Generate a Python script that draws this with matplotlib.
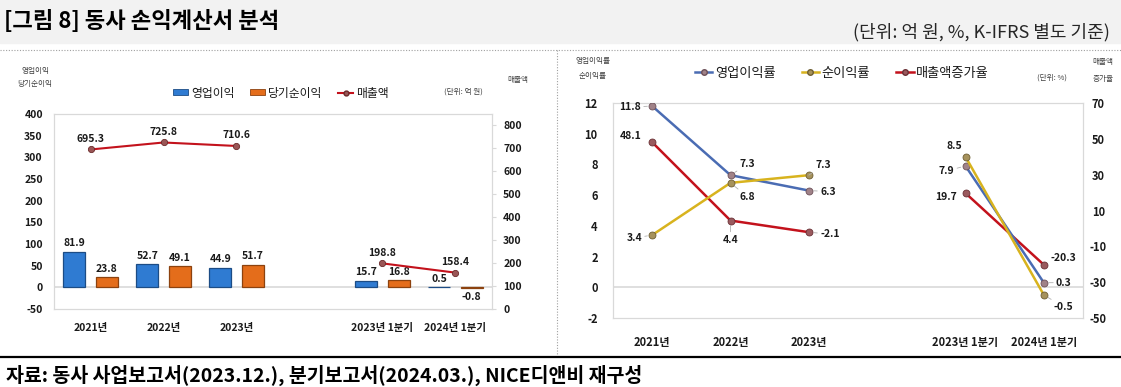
import numpy as np
import matplotlib.pyplot as plt
from matplotlib.lines import Line2D
from matplotlib.patches import Patch, Rectangle

plt.rcParams['font.family'] = ['Noto Sans CJK KR', 'DejaVu Sans']
plt.rcParams['axes.unicode_minus'] = False

W, H = 1121, 387

# 데이터 (값은 그림에서 읽음)
categories = ['2021년', '2022년', '2023년', '', '2023년 1분기', '2024년 1분기']
op_profit = [81.9, 52.7, 44.9, np.nan, 15.7, 0.5]
net_profit = [23.8, 49.1, 51.7, np.nan, 16.8, -0.8]
sales = [695.3, 725.8, 710.6, np.nan, 198.8, 158.4]

op_margin = [11.8, 7.3, 6.3, np.nan, 7.9, 0.3]
net_margin = [3.4, 6.8, 7.3, np.nan, 8.5, -0.5]
sales_growth = [48.1, 4.4, -2.1, np.nan, 19.7, -20.3]

# 색
c_blue_bar, c_blue_edge = '#2f7bd2', '#1c4c85'
c_orange_bar, c_orange_edge = '#e46d1b', '#8c420f'
c_red = '#c3121c'
c_blue_line = '#4a6cb3'
c_gold_line = '#d8b31e'
txt = '#1a1a1a'
border = '#d9d9d9'


def px_rect(x0, y0, x1, y1):
    return [x0 / W, 1 - y1 / H, (x1 - x0) / W, (y1 - y0) / H]


def ftext(x, y, s, **kw):
    fig.text(x / W, 1 - y / H, s, **kw)


fig = plt.figure(figsize=(W / 100, H / 100), dpi=100)

# 상단 회색 띠, 점선, 하단 굵은 선
fig.patches.append(Rectangle((0, 1 - 43 / H), 1, 43 / H, transform=fig.transFigure,
                             color='#f2f2f2', zorder=0))
fig.add_artist(Line2D([0, 1], [1 - 50 / H] * 2, transform=fig.transFigure,
                      ls=(0, (1, 1.5)), color='#a0a0a0', lw=0.8))
fig.add_artist(Line2D([557 / W] * 2, [1 - 50 / H, 1 - 356 / H], transform=fig.transFigure,
                      ls=(0, (1, 1.5)), color='#a0a0a0', lw=0.8))
fig.add_artist(Line2D([0, 1], [1 - 357 / H] * 2, transform=fig.transFigure,
                      color='black', lw=1.6))

ftext(4, 22, '[그림 8] 동사 손익계산서 분석', fontsize=16, fontweight='bold',
      va='center', ha='left', color='black')
ftext(1110, 32, '(단위: 억 원, %, K-IFRS 별도 기준)', fontsize=13, va='center',
      ha='right', color='#262626')
ftext(6, 375, '자료: 동사 사업보고서(2023.12.), 분기보고서(2024.03.), NICE디앤비 재구성',
      fontsize=14, fontweight='bold', va='center', ha='left', color='black')

x = np.arange(len(categories))
tick_pos = [i for i, c in enumerate(categories) if c]
tick_lab = [c for c in categories if c]

# ---------------- 왼쪽: 손익 ----------------
ax1 = fig.add_axes(px_rect(54, 114, 492, 309))
ax1.bar(x - 0.22, op_profit, 0.3, color=c_blue_bar, edgecolor=c_blue_edge, lw=0.9, zorder=3)
ax1.bar(x + 0.22, net_profit, 0.3, color=c_orange_bar, edgecolor=c_orange_edge, lw=0.9, zorder=3)
ax1.axhline(0, color=border, lw=1.2, zorder=1)
ax1.set_xlim(-0.5, 5.5)
ax1.set_ylim(-50, 400)
ax1.set_yticks(range(-50, 401, 50))
ax1.set_xticks(tick_pos)
ax1.set_xticklabels(tick_lab)
ax1.tick_params(axis='x', length=0, pad=10, labelsize=7.5, labelcolor=txt)
ax1.tick_params(axis='y', length=0, pad=8, labelsize=7.5, labelcolor=txt)
for lab in ax1.get_xticklabels() + ax1.get_yticklabels():
    lab.set_fontweight('bold')

for xi, v in zip(x, op_profit):
    if np.isnan(v):
        continue
    ax1.annotate(f'{v:.1f}', (xi - 0.22, max(v, 0)), xytext=(0, 2.5), textcoords='offset points',
                 ha='center', va='bottom', fontsize=7.5, fontweight='bold', color=txt)
for xi, v in zip(x, net_profit):
    if np.isnan(v):
        continue
    if v < 0:
        ax1.annotate(f'{v:.1f}', (xi + 0.22, v), xytext=(0, -3), textcoords='offset points',
                     ha='center', va='top', fontsize=7.5, fontweight='bold', color=txt)
    else:
        ax1.annotate(f'{v:.1f}', (xi + 0.22, v), xytext=(0, 2.5), textcoords='offset points',
                     ha='center', va='bottom', fontsize=7.5, fontweight='bold', color=txt)

ax1b = ax1.twinx()
ax1b.plot(x, sales, color=c_red, lw=1.5, marker='o', ms=4.5, mfc='#9a5656', mec='#6a2a2a',
          mew=0.6, zorder=4)
ax1b.set_ylim(0, 850)
ax1b.set_yticks(range(0, 801, 100))
ax1b.tick_params(axis='y', length=3, color=border, pad=5, labelsize=7.5, labelcolor=txt)
for lab in ax1b.get_yticklabels():
    lab.set_fontweight('bold')
for xi, v in zip(x, sales):
    if np.isnan(v):
        continue
    ax1b.annotate(f'{v:.1f}', (xi, v), xytext=(0, 4), textcoords='offset points',
                  ha='center', va='bottom', fontsize=7.5, fontweight='bold', color=txt)
for a in (ax1, ax1b):
    for s in a.spines.values():
        s.set_color(border)
        s.set_linewidth(0.8)

ftext(35, 71, '영업이익', fontsize=5.5, ha='center', va='center', color='#404040')
ftext(35, 84, '당기순이익', fontsize=5.5, ha='center', va='center', color='#404040')
ftext(463, 92, '(단위: 억 원)', fontsize=5.5, ha='center', va='center', color='#404040')
ftext(518, 80, '매출액', fontsize=5.5, ha='center', va='center', color='#404040')

h1 = [Patch(facecolor=c_blue_bar, edgecolor=c_blue_edge, lw=0.6),
      Patch(facecolor=c_orange_bar, edgecolor=c_orange_edge, lw=0.6),
      Line2D([], [], color=c_red, lw=1.5, marker='o', ms=3.5, mfc='#9a5656', mec='#6a2a2a')]
fig.legend(h1, ['영업이익', '당기순이익', '매출액'], loc='center',
           bbox_to_anchor=(281 / W, 1 - 93 / H), ncol=3, frameon=False, fontsize=8.5,
           handlelength=1.3, handleheight=0.45, handletextpad=0.25, columnspacing=1.3,
           labelcolor=txt)

# ---------------- 오른쪽: 수익성 ----------------
ax2 = fig.add_axes(px_rect(613, 103, 1083, 318))
ax2.axhline(0, color=border, lw=1.2, zorder=1)
ax2.set_xlim(-0.5, 5.5)
ax2.set_ylim(-2, 12)
ax2.set_yticks(range(-2, 13, 2))
ax2.set_xticks(tick_pos)
ax2.set_xticklabels(tick_lab)
ax2.tick_params(axis='x', length=0, pad=13, labelsize=8, labelcolor=txt)
ax2.tick_params(axis='y', length=0, pad=11, labelsize=8, labelcolor=txt)
for lab in ax2.get_xticklabels() + ax2.get_yticklabels():
    lab.set_fontweight('bold')

ax2b = ax2.twinx()
ax2b.set_ylim(-50, 70)
ax2b.set_yticks(range(-50, 71, 20))
ax2b.tick_params(axis='y', length=0, pad=11, labelsize=8, labelcolor=txt)
for lab in ax2b.get_yticklabels():
    lab.set_fontweight('bold')
    lab.set_horizontalalignment('center')

ax2b.plot(x, sales_growth, color=c_red, lw=1.8, marker='o', ms=5, mfc='#9a5a5e', mec='#6a3035',
          mew=0.6, zorder=3)
ax2.set_zorder(ax2b.get_zorder() + 1)
ax2.patch.set_visible(False)
ax2.plot(x, op_margin, color=c_blue_line, lw=1.8, marker='o', ms=5, mfc='#a08288', mec='#6c5058',
         mew=0.6, zorder=4)
ax2.plot(x, net_margin, color=c_gold_line, lw=1.8, marker='o', ms=5, mfc='#a6925c', mec='#6e5e32',
         mew=0.6, zorder=5)
for a in (ax2, ax2b):
    for s in a.spines.values():
        s.set_color(border)
        s.set_linewidth(0.8)

# 라벨 위치 (픽셀 오프셋: 오른쪽 +, 위 +), 지시선 여부
op_pos = [(-22, -1, True), (17, 11, True), (19, -1, True), None, (-19, -5, True), (20, 0, True)]
net_pos = [(-18, -3, True), (17, -14, True), (14, 10, True), None, (-11, 11, False), (20, -12, True)]
gr_pos = [(-22, 6, False), (0, -19, True), (21, -2, True), None, (-19, -4, False), (20, 7, False)]


def label_series(ax, vals, pos):
    for xi, v, p in zip(x, vals, pos):
        if p is None or np.isnan(v):
            continue
        dx, dy, lead = p
        kw = {}
        if lead:
            kw['arrowprops'] = dict(arrowstyle='-', color='#b0b0b0', lw=0.6, shrinkA=0, shrinkB=3.5)
        ax.annotate(f'{v:.1f}', (xi, v), xytext=(dx * 0.72, dy * 0.72), textcoords='offset points',
                    ha='center', va='center', fontsize=7.5, fontweight='bold', color=txt,
                    zorder=6, **kw)


label_series(ax2, op_margin, op_pos)
label_series(ax2, net_margin, net_pos)
label_series(ax2b, sales_growth, gr_pos)

ftext(593, 61, '영업이익률', fontsize=5.5, ha='center', va='center', color='#404040')
ftext(593, 76, '순이익률', fontsize=5.5, ha='center', va='center', color='#404040')
ftext(1052, 78, '(단위: %)', fontsize=5.5, ha='center', va='center', color='#404040')
ftext(1103, 62, '매출액', fontsize=5.5, ha='center', va='center', color='#404040')
ftext(1103, 79, '증가율', fontsize=5.5, ha='center', va='center', color='#404040')

h2 = [Line2D([], [], color=c_blue_line, lw=1.8, marker='o', ms=4, mfc='#a08288', mec='#6c5058'),
      Line2D([], [], color=c_gold_line, lw=1.8, marker='o', ms=4, mfc='#a6925c', mec='#6e5e32'),
      Line2D([], [], color=c_red, lw=1.8, marker='o', ms=4, mfc='#9a5a5e', mec='#6a3035')]
fig.legend(h2, ['영업이익률', '순이익률', '매출액증가율'], loc='center',
           bbox_to_anchor=(842 / W, 1 - 73 / H), ncol=3, frameon=False, fontsize=9.5,
           handlelength=1.3, handletextpad=0.2, columnspacing=2.0, labelcolor=txt)

fig.savefig('out.png', dpi=100)
